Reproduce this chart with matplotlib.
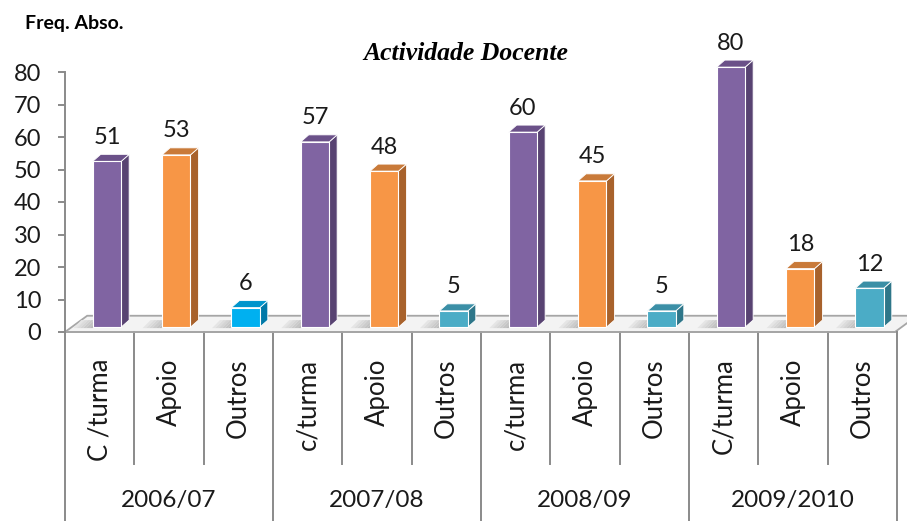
import matplotlib.pyplot as plt
from matplotlib.patches import Polygon

# dados
anos = ['2006/07', '2007/08', '2008/09', '2009/2010']
categorias = ['C /turma', 'Apoio', 'Outros',
              'c/turma', 'Apoio', 'Outros',
              'c/turma', 'Apoio', 'Outros',
              'C/turma', 'Apoio', 'Outros']
valores = [51, 53, 6, 57, 48, 5, 60, 45, 5, 80, 18, 12]

# cores (frente, lado, topo)
roxo = ('#8064A2', '#584372', '#6B5189')
laranja = ('#F79646', '#A8622C', '#C97A39')
azul = ('#00B0F0', '#0079A8', '#0095CC')
turquesa = ('#4BACC6', '#2E7689', '#3B8FA6')
cores = [roxo, laranja, azul,
         roxo, laranja, turquesa,
         roxo, laranja, turquesa,
         roxo, laranja, turquesa]

fonte = 'Lato'
cinza = '#8a8a8a'

fig = plt.figure(figsize=(9.07, 5.21), dpi=100)
ax = fig.add_axes([65 / 907, 189 / 521, 832 / 907, 260 / 521])
ax.set_xlim(0, 12)
ax.set_ylim(0, 80)

# profundidade 3D (em unidades dos dados)
dx, dy = 0.115, 2.16
base = 1.5

# chao
fx, fy = 0.32, 5.0
chao = Polygon([(0.0, 0), (11.97, 0), (11.97 + fx, fy), (0.0 + fx, fy)],
               closed=True, facecolor='#f3f3f3', edgecolor='#a6a6a6', lw=1.3,
               clip_on=False, zorder=1)
ax.add_patch(chao)
ax.plot([0.0, 11.97], [0, 0], color='#a6a6a6', lw=1.3, clip_on=False, zorder=1.2)

# barras
for i, v in enumerate(valores):
    frente_c, lado_c, topo_c = cores[i]
    x0, x1 = i + 0.40, i + 0.81
    y0, y1 = base, v + base
    # sombra no chao (gradiente a esquerda da barra)
    n = 6
    for k in range(n):
        a = x0 - 0.28 + 0.28 * k / n
        b = x0 - 0.28 + 0.28 * (k + 1) / n
        g = 0.93 - 0.2 * (k + 1) / n
        ax.add_patch(Polygon([(a, y0 - 0.3), (b, y0 - 0.3), (b + dx, y0 + dy), (a + dx, y0 + dy)],
                             closed=True, facecolor=(g, g, g), edgecolor='none',
                             zorder=1.5, clip_on=False))
    frente = Polygon([(x0, y0), (x1, y0), (x1, y1), (x0, y1)], closed=True,
                     facecolor=frente_c, edgecolor='white', lw=0.8, zorder=3, clip_on=False)
    lado = Polygon([(x1, y0), (x1 + dx, y0 + dy), (x1 + dx, y1 + dy), (x1, y1)], closed=True,
                   facecolor=lado_c, edgecolor='white', lw=0.6, zorder=2.9, clip_on=False)
    topo = Polygon([(x0, y1), (x1, y1), (x1 + dx, y1 + dy), (x0 + dx, y1 + dy)], closed=True,
                   facecolor=topo_c, edgecolor='white', lw=0.6, zorder=2.9, clip_on=False)
    ax.add_patch(lado)
    ax.add_patch(topo)
    ax.add_patch(frente)
    ax.text(i + 0.605, v + base + dy + 2.0, str(v), ha='center', va='bottom',
            fontsize=17, family=fonte, color='#1a1a1a')

# tabela do eixo x
for k in range(13):
    fim = -62 if k % 3 == 0 else -40.5
    ax.plot([k, k], [0, fim], color=cinza, lw=1.4, clip_on=False, zorder=1)

for i, c in enumerate(categorias):
    ax.text(i + 0.5, -8.2, c, rotation=90, ha='center', va='top',
            fontsize=18.5, family=fonte, color='#1a1a1a')

for g, a in enumerate(anos):
    ax.text(g * 3 + 1.5, -52.0, a, ha='center', va='center',
            fontsize=17.5, family=fonte, color='#1a1a1a')

# eixo y
for s in ['top', 'right', 'bottom']:
    ax.spines[s].set_visible(False)
ax.spines['left'].set_color(cinza)
ax.spines['left'].set_linewidth(1.4)
ax.set_xticks([])
ax.set_yticks(range(0, 81, 10))
ax.tick_params(axis='y', length=5, width=1.4, color=cinza, labelsize=17, pad=12)
for t in ax.get_yticklabels():
    t.set_family(fonte)
    t.set_color('#1a1a1a')
ax.patch.set_alpha(0)

fig.text(25 / 907, 1 - 29 / 521, 'Freq. Abso.', fontsize=14, fontweight='bold',
         family=fonte, ha='left', va='baseline')
fig.text(466 / 907, 1 - 60 / 521, 'Actividade Docente', fontsize=18.5, fontweight='bold',
         style='italic', family='Liberation Serif', ha='center', va='baseline')

fig.savefig('out.png', dpi=100)
